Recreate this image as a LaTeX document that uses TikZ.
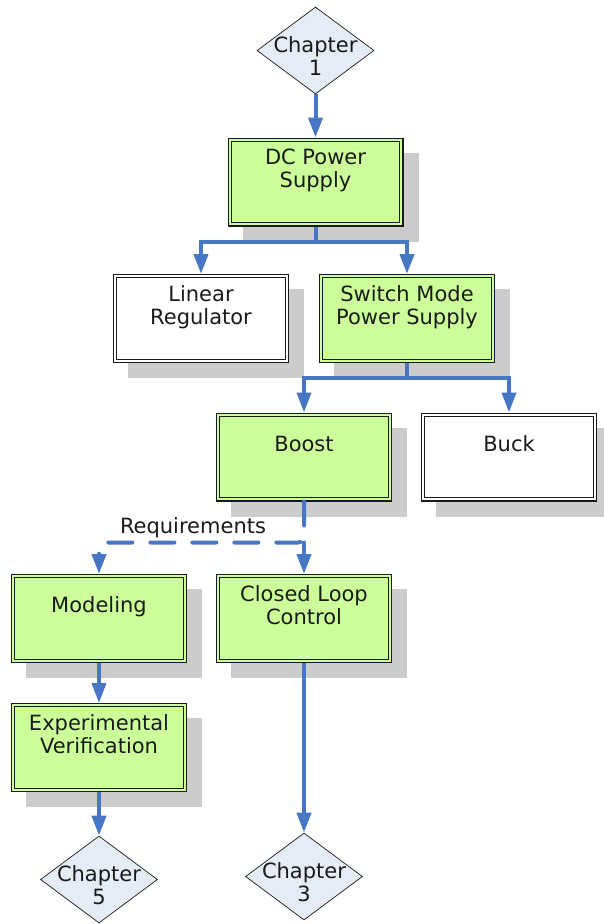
\documentclass[tikz,border=0pt]{standalone}
\usepackage{fontspec}
\setmainfont{DejaVu Sans}
\usetikzlibrary{shapes.geometric,arrows.meta,backgrounds}

\definecolor{flowblue}{RGB}{70,118,196}
\definecolor{stepgreen}{RGB}{204,255,153}
\definecolor{chapfill}{RGB}{230,236,246}
\definecolor{shadowgray}{RGB}{204,204,204}
\definecolor{inkcol}{RGB}{26,26,26}

% text of a box: lifted into the upper part of the box, taking no room
\newcommand{\boxlabel}[1]{\smash{\raisebox{5pt}{\begin{tabular}{@{}c@{}}#1\end{tabular}}}}
% text of a chapter marker: set slightly below the marker's middle
\newcommand{\chaplabel}[1]{\smash{\raisebox{-14.3pt}{\begin{tabular}{@{}c@{}}#1\end{tabular}}}}

\tikzset{
  x=1pt, y=-1pt,
  every node/.style={font=\fontsize{21}{23}\selectfont, text=inkcol},
  stepbox/.style={rectangle, draw=inkcol, line width=1.1pt,
    double=stepgreen, double distance=2.2pt, fill=stepgreen,
    minimum width=171.6pt, minimum height=84.6pt, inner sep=0pt, outer sep=2.2pt},
  plainbox/.style={stepbox, double=white, fill=white},
  chapter/.style={diamond, draw=inkcol, line width=0.7pt, fill=chapfill,
    minimum width=117pt, minimum height=87pt, inner sep=0pt, outer sep=0.35pt},
  flow/.style={draw=flowblue, line width=4pt,
    -{Triangle[length=20pt, width=14pt]}},
  branch/.style={draw=flowblue, line width=4pt},
  reqflow/.style={flow, line cap=round, dash pattern=on 24pt off 18pt},
  shade/.style={fill=shadowgray},
}

\begin{document}
\begin{tikzpicture}
\useasboundingbox (0,0) rectangle (603,924);

% chapter markers
\node[chapter] (ch1) at (315.5,50.5) {\chaplabel{Chapter\\1}};
\node[chapter] (ch5) at (99,879.5)   {\chaplabel{Chapter\\5}};
\node[chapter] (ch3) at (304,876.5)  {\chaplabel{Chapter\\3}};

% process boxes
\node[stepbox]  (dc)    at (315.5,182) {\boxlabel{DC Power\\Supply}};
\node[plainbox] (lin)   at (201,318.5) {\boxlabel{Linear\\Regulator}};
\node[stepbox]  (smps)  at (407,318.5) {\boxlabel{Switch Mode\\Power Supply}};
\node[stepbox]  (boost) at (304,457)   {\boxlabel{Boost}};
\node[plainbox] (buck)  at (509,457)   {\boxlabel{Buck}};
\node[stepbox]  (mod)   at (99,618.5)  {\boxlabel{Modeling}};
\node[stepbox]  (clc)   at (304,618.5) {\boxlabel{Closed Loop\\Control}};
\node[stepbox]  (exp)   at (99,747.5)  {\boxlabel{Experimental\\Verification}};

% offset drop shadows behind the boxes
\begin{scope}[on background layer]
  \foreach \b in {dc,lin,smps,boost,buck,mod,clc,exp}
    \fill[shade] ([shift={(15,15)}]\b.north west) rectangle ([shift={(15,15)}]\b.south east);
\end{scope}

% connectors
\draw[flow] (ch1.south) -- (dc.north);
\coordinate (dcsplit) at ([yshift=-15pt]dc.south);
\draw[branch] (dc.south) -- (dcsplit);
\draw[flow] (dcsplit) -| (lin.north);
\draw[flow] (dcsplit) -| (smps.north);

\coordinate (smpssplit) at ([yshift=-15pt]smps.south);
\draw[branch] (smps.south) -- (smpssplit);
\draw[flow] (smpssplit) -| (boost.north);
\draw[flow] (smpssplit) -| (buck.north);

\coordinate (reqsplit) at ([yshift=-41pt]boost.south);
\draw[reqflow, rounded corners=6pt] (boost.south) -- (reqsplit) -| (mod.north);
\draw[reqflow] (reqsplit) -- (clc.north);
\node[anchor=base] (req) at (193,533) {Requirements};

\draw[flow] (mod.south) -- (exp.north);
\draw[flow] (exp.south) -- (ch5.north);
\draw[flow] (clc.south) -- (ch3.north);
\end{tikzpicture}
\end{document}
